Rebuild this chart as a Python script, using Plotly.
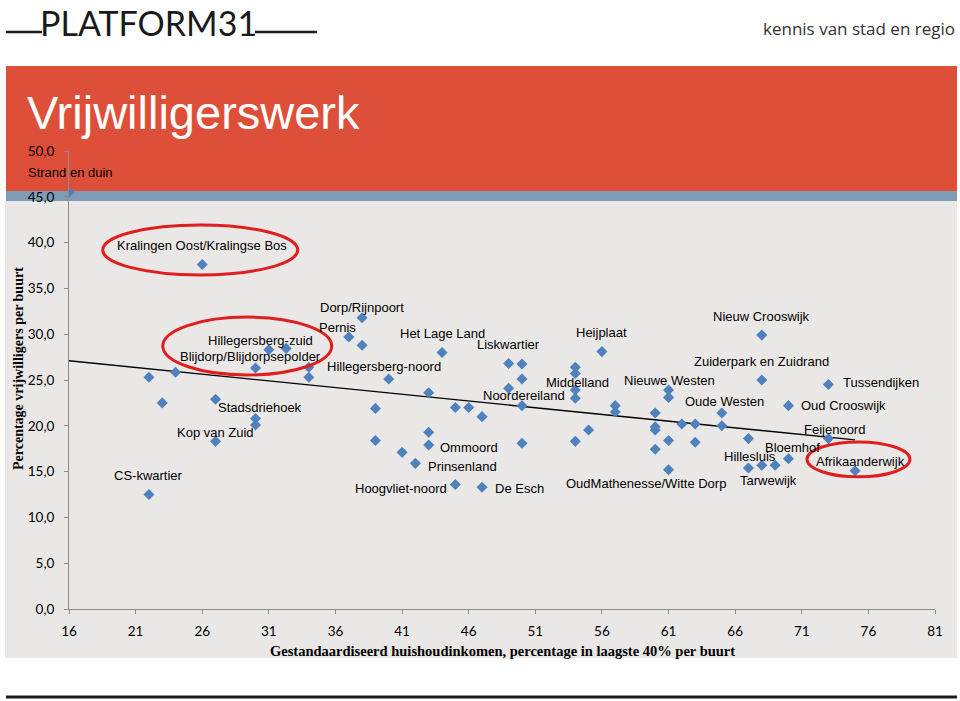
import plotly.graph_objects as go

# ---------------- data ----------------
inkomen = [16.0, 26.0, 22.0, 23.0, 24.0, 27.0, 27.0, 30.0, 30.0, 30.0,
           31.0, 32.3, 34.0, 34.0, 22.0, 38.0, 37.0, 38.0, 44.0, 40.0,
           39.0, 43.0, 45.0, 46.0, 47.0, 43.0, 43.0, 39.0, 41.0, 42.0,
           45.0, 47.0, 49.0, 50.0, 50.0, 49.0, 50.0, 50.0, 54.0, 54.0,
           54.0, 54.0, 55.0, 54.0, 56.0, 68.0, 68.0, 73.0, 70.0, 61.0,
           61.0, 57.0, 57.0, 60.0, 60.0, 60.0, 60.0, 61.0, 61.0, 62.0,
           63.0, 63.0, 65.0, 65.0, 67.0, 67.0, 68.0, 69.0, 70.0, 73.0,
           75.0]
vrijwilligers = [45.5, 37.6, 25.3, 22.5, 25.85, 22.9, 18.3, 26.3, 20.8, 20.1,
                 28.3, 28.45, 26.4, 25.3, 12.5, 31.8, 29.7, 28.8, 28.0, 25.1,
                 21.9, 23.6, 22.0, 22.0, 21.0, 19.3, 17.9, 18.4, 17.1, 15.9,
                 13.6, 13.3, 26.8, 26.75, 25.1, 24.1, 22.2, 18.1, 26.4, 25.7,
                 23.9, 23.0, 19.55, 18.3, 28.1, 29.9, 25.0, 24.5, 22.2, 23.9,
                 23.1, 22.2, 21.5, 21.4, 19.9, 19.55, 17.45, 18.4, 15.2, 20.2,
                 20.2, 18.2, 21.4, 20.0, 18.6, 15.4, 15.7, 15.7, 16.4, 18.6,
                 15.1]
buurt = ["Strand en duin", "Kralingen Oost/Kralingse Bos", "", "", "",
         "Stadsdriehoek", "Kop van Zuid", "Blijdorp/Blijdorpsepolder", "", "",
         "", "Hillegersberg-zuid", "", "", "CS-kwartier",
         "Dorp/Rijnpoort", "Pernis", "", "Het Lage Land", "Hillegersberg-noord",
         "", "", "", "", "",
         "", "Ommoord", "", "", "Prinsenland",
         "Hoogvliet-noord", "De Esch", "Liskwartier", "", "",
         "", "Noordereiland", "", "", "",
         "Middelland", "", "", "", "Heijplaat",
         "Nieuw Crooswijk", "Zuiderpark en Zuidrand", "Tussendijken", "Oud Crooswijk", "Nieuwe Westen",
         "", "", "", "", "",
         "", "", "", "OudMathenesse/Witte Dorp", "",
         "", "", "Oude Westen", "", "",
         "Hillesluis", "Tarwewijk", "", "Bloemhof", "Feijenoord",
         "Afrikaanderwijk"]

trend_x = [16.0, 75.0]
trend_y = [27.1, 18.46]

y_ticks = [0, 5, 10, 15, 20, 25, 30, 35, 40, 45, 50]
x_ticks = [16, 21, 26, 31, 36, 41, 46, 51, 56, 61, 66, 71, 76, 81]

# highlighted neighbourhoods (ellipse extents in data units)
highlights = [
    (18.53, 33.17, 36.47, 41.92),
    (23.04, 35.72, 25.55, 31.87),
    (71.39, 79.12, 14.43, 18.24),
]

# label offsets in pixels (dx right, dy down) relative to the point
label_offset = {
    "Strand en duin": (1, -20),
    "Kralingen Oost/Kralingse Bos": (0, -19),
    "Hillegersberg-zuid": (-26, -8),
    "Blijdorp/Blijdorpsepolder": (-5, -12),
    "Dorp/Rijnpoort": (0, -10),
    "Pernis": (-11, -9),
    "Het Lage Land": (0, -19),
    "Liskwartier": (0, -19),
    "Heijplaat": (0, -19),
    "Hillegersberg-noord": (-5, -13),
    "Middelland": (2, -8),
    "Noordereiland": (2, -10),
    "Stadsdriehoek": (44, 8),
    "Kop van Zuid": (0, -9),
    "CS-kwartier": (0, -19),
    "Ommoord": (40, 2),
    "Prinsenland": (47, 3),
    "Hoogvliet-noord": (-54, 4),
    "De Esch": (37, 1),
    "OudMathenesse/Witte Dorp": (-23, 14),
    "Nieuw Crooswijk": (0, -19),
    "Zuiderpark en Zuidrand": (0, -19),
    "Nieuwe Westen": (1, -10),
    "Tussendijken": (53, -2),
    "Oude Westen": (3, -11),
    "Oud Crooswijk": (55, 0),
    "Feijenoord": (6, -9),
    "Bloemhof": (4, -11),
    "Hillesluis": (2, -11),
    "Afrikaanderwijk": (5, -9),
    "Tarwewijk": (7, 15),
}

# ---------------- layout geometry (pixels) ----------------
W, H = 960, 701
PL, PR, PT, PB = 69, 935, 151, 609  # plot area in pixels


def fx(px):
    return (px - PL) / (PR - PL)


def fy(py):
    return (PB - py) / (PB - PT)


fig = go.Figure()

fig.add_trace(go.Scatter(
    x=trend_x, y=trend_y, mode="lines",
    line=dict(color="black", width=1.4),
    hoverinfo="skip", showlegend=False))

fig.add_trace(go.Scatter(
    x=inkomen, y=vrijwilligers, mode="markers",
    marker=dict(symbol="diamond", size=8.5, color="#4F81BD",
                line=dict(width=0)),
    text=buurt, showlegend=False))

shapes = []
# grey slide panel
shapes.append(dict(type="rect", xref="paper", yref="paper",
                   x0=fx(5), x1=fx(957), y0=fy(658), y1=fy(201),
                   fillcolor="#EAE8E6", line=dict(width=0), layer="below"))
# red header band
shapes.append(dict(type="rect", xref="paper", yref="paper",
                   x0=fx(6), x1=fx(957), y0=fy(191), y1=fy(66),
                   fillcolor="#DE4F3A", line=dict(width=0), layer="below"))
# blue stripe
shapes.append(dict(type="rect", xref="paper", yref="paper",
                   x0=fx(6), x1=fx(957), y0=fy(201), y1=fy(191),
                   fillcolor="#7E9CB6", line=dict(width=0), layer="below"))
# bottom black rule
shapes.append(dict(type="line", xref="paper", yref="paper",
                   x0=fx(6), x1=fx(957), y0=fy(697), y1=fy(697),
                   line=dict(color="#1a1a1a", width=3)))
# logo rules
shapes.append(dict(type="line", xref="paper", yref="paper",
                   x0=fx(6), x1=fx(42), y0=fy(32), y1=fy(32),
                   line=dict(color="#1a1a1a", width=2.5)))
shapes.append(dict(type="line", xref="paper", yref="paper",
                   x0=fx(255), x1=fx(317), y0=fy(32), y1=fy(32),
                   line=dict(color="#1a1a1a", width=2.5)))
# red ellipses
for x0, x1, y0, y1 in highlights:
    shapes.append(dict(type="circle", xref="x", yref="y",
                       x0=x0, x1=x1, y0=y0, y1=y1,
                       line=dict(color="#E01E1E", width=3)))

annotations = []
for xv, yv, name in zip(inkomen, vrijwilligers, buurt):
    if not name:
        continue
    dx, dy = label_offset.get(name, (0, -15))
    annotations.append(dict(x=xv, y=yv, xref="x", yref="y", text=name,
                            showarrow=False, xanchor="center", yanchor="middle",
                            xshift=dx, yshift=-dy,
                            font=dict(family="Liberation Sans, Arial", size=13, color="black")))

# logo text
annotations.append(dict(x=fx(38), y=fy(22), xref="paper", yref="paper",
                        text="PLATFORM31", showarrow=False, xanchor="left", yanchor="middle",
                        font=dict(family="Lato", size=34, color="#1a1a1a")))
annotations.append(dict(x=fx(957), y=fy(29), xref="paper", yref="paper",
                        text="kennis van stad en regio", showarrow=False,
                        xanchor="right", yanchor="middle",
                        font=dict(family="Open Sans", size=17, color="#333333")))
# slide title
annotations.append(dict(x=fx(25), y=fy(113), xref="paper", yref="paper",
                        text="Vrijwilligerswerk", showarrow=False,
                        xanchor="left", yanchor="middle",
                        font=dict(family="Liberation Sans, Arial", size=47, color="white")))
# axis titles
annotations.append(dict(x=fx(18), y=fy(369), xref="paper", yref="paper",
                        text="<b>Percentage vrijwilligers per buurt</b>", showarrow=False,
                        textangle=-90, xanchor="center", yanchor="middle",
                        font=dict(family="Liberation Serif, Times New Roman", size=14, color="black")))
annotations.append(dict(x=fx(502), y=fy(651), xref="paper", yref="paper",
                        text="<b>Gestandaardiseerd huishoudinkomen, percentage in laagste 40% per buurt</b>",
                        showarrow=False, xanchor="center", yanchor="middle",
                        font=dict(family="Liberation Serif, Times New Roman", size=14.5, color="black")))

axis_line = "#8C8C8C"
fig.update_layout(
    width=W, height=H,
    margin=dict(l=PL, r=W - PR, t=PT, b=H - PB, pad=0),
    paper_bgcolor="white", plot_bgcolor="rgba(0,0,0,0)",
    separators=",.",
    shapes=shapes, annotations=annotations,
    showlegend=False,
    xaxis=dict(range=[16, 81], tickvals=x_ticks, showgrid=False, zeroline=False,
               showline=True, linecolor=axis_line, linewidth=1,
               ticks="outside", ticklen=4, tickcolor=axis_line,
               ticklabelstandoff=6,
               tickfont=dict(family="Lato", size=13.5, color="black")),
    yaxis=dict(range=[0, 50], tickvals=y_ticks, tickformat=".1f",
               showgrid=False, zeroline=False,
               showline=True, linecolor=axis_line, linewidth=1,
               ticks="outside", ticklen=4, tickcolor=axis_line,
               ticklabelstandoff=7,
               tickfont=dict(family="Lato", size=13.5, color="black")),
)

fig.write_html("out.html")
